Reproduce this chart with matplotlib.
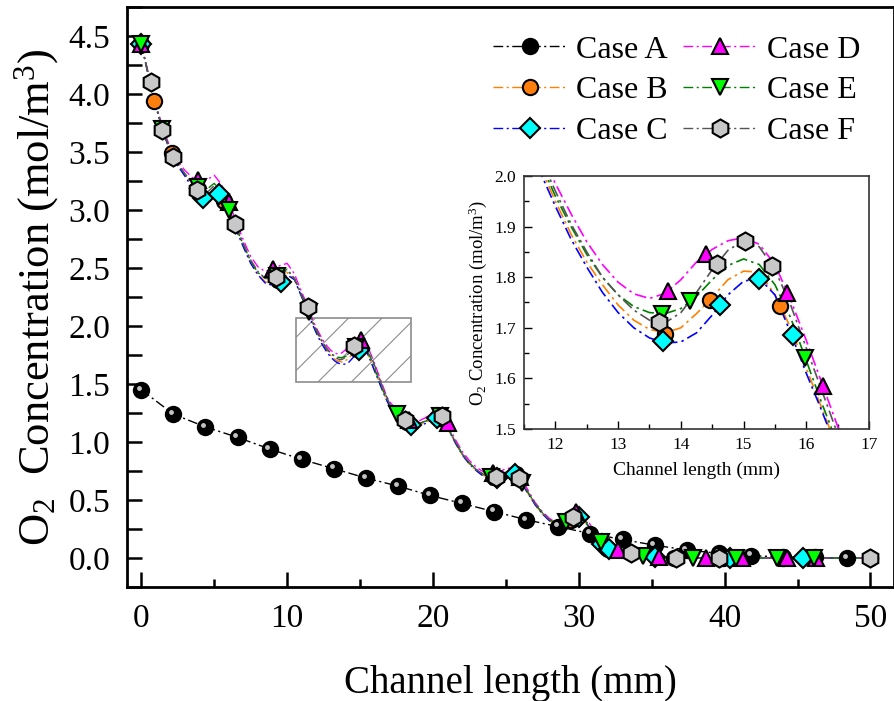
import matplotlib
matplotlib.use("Agg")
import matplotlib.pyplot as plt
from matplotlib.lines import Line2D
from matplotlib.patches import Rectangle
from matplotlib.ticker import MultipleLocator, FormatStrFormatter
from matplotlib.transforms import offset_copy

plt.rcParams['font.family'] = 'Liberation Serif'
plt.rcParams['mathtext.fontset'] = 'custom'
plt.rcParams['mathtext.rm'] = 'Liberation Serif'
plt.rcParams['mathtext.it'] = 'Liberation Serif:italic'
plt.rcParams['hatch.linewidth'] = 0.8

# ---- data ----
# Case A (straight channel)
case_a_x = [0, 2.2, 4.4, 6.6, 8.8, 11.0, 13.2, 15.4, 17.6, 19.8, 22.0, 24.2,
            26.4, 28.6, 30.8, 33.0, 35.2, 37.4, 39.6, 41.8, 44.0, 46.2, 48.4, 50.0]
case_a_y = [1.45, 1.24, 1.13, 1.04, 0.94, 0.85, 0.77, 0.69, 0.62, 0.54, 0.47, 0.40,
            0.33, 0.27, 0.21, 0.16, 0.11, 0.07, 0.04, 0.02, 0.01, 0.005, 0.0, 0.0]

# shared channel positions for the wavy curves B-F
line_x = [0, 0.5, 1, 1.5, 2, 2.5, 3, 3.5, 4, 4.5, 5, 5.5, 6, 6.5, 7, 7.5, 8, 8.5, 9, 9.5, 10, 10.5, 11,
          11.5, 11.75, 12, 12.25, 12.5, 12.75, 13, 13.25, 13.5, 13.75, 14, 14.25, 14.5, 14.75,
          15, 15.25, 15.5, 15.75, 16, 16.25, 16.5, 16.75, 17,
          17.5, 18, 18.5, 19, 19.5, 20, 20.5, 21, 21.5, 22, 22.5, 23, 23.5, 24, 24.5, 25, 25.5,
          26, 26.5, 27, 27.5, 28, 28.5, 29, 29.5, 30, 30.5, 31, 31.5, 32, 32.5, 33,
          34, 35, 36, 38, 40, 42, 44, 46, 48, 50]

line_b = [4.43, 4.15, 3.89, 3.67, 3.50, 3.39, 3.30, 3.21, 3.13, 3.12, 3.18, 3.13, 2.99, 2.84, 2.69, 2.55,
          2.45, 2.38, 2.37, 2.41, 2.46, 2.40, 2.25,
          2.11, 2.02, 1.95, 1.885, 1.83, 1.785, 1.745, 1.715, 1.697, 1.69, 1.70, 1.728, 1.76, 1.795,
          1.812, 1.81, 1.765, 1.70, 1.62, 1.54, 1.46, 1.385, 1.32,
          1.24, 1.18, 1.15, 1.15, 1.17, 1.21, 1.21, 1.12, 1.00, 0.89, 0.81, 0.75, 0.71, 0.69, 0.70,
          0.73, 0.73, 0.66, 0.56, 0.46, 0.38, 0.32, 0.29, 0.30, 0.33, 0.35, 0.30, 0.21, 0.13, 0.08,
          0.05, 0.04,
          0.02, 0.01, 0, 0, 0, 0, 0, 0, 0, 0]
line_c = [4.43, 4.15, 3.89, 3.67, 3.50, 3.38, 3.29, 3.19, 3.11, 3.10, 3.16, 3.13, 2.99, 2.83, 2.68, 2.54,
          2.44, 2.37, 2.35, 2.38, 2.44, 2.40, 2.25,
          2.10, 2.01, 1.94, 1.875, 1.82, 1.77, 1.73, 1.70, 1.68, 1.67, 1.672, 1.69, 1.725, 1.765,
          1.792, 1.798, 1.765, 1.69, 1.61, 1.535, 1.455, 1.38, 1.315,
          1.24, 1.18, 1.14, 1.14, 1.16, 1.20, 1.21, 1.12, 1.00, 0.89, 0.81, 0.75, 0.70, 0.68, 0.69,
          0.72, 0.73, 0.66, 0.56, 0.46, 0.38, 0.32, 0.29, 0.29, 0.32, 0.35, 0.30, 0.21, 0.13, 0.08,
          0.05, 0.04,
          0.02, 0.01, 0, 0, 0, 0, 0, 0, 0, 0]
line_d = [4.43, 4.17, 3.91, 3.70, 3.53, 3.42, 3.34, 3.28, 3.25, 3.26, 3.30, 3.22, 3.07, 2.90, 2.74, 2.60,
          2.51, 2.47, 2.49, 2.52, 2.54, 2.45, 2.29,
          2.15, 2.05, 1.985, 1.925, 1.87, 1.825, 1.79, 1.767, 1.758, 1.768, 1.795, 1.83, 1.855, 1.872,
          1.878, 1.865, 1.825, 1.755, 1.675, 1.59, 1.505, 1.42, 1.35,
          1.28, 1.21, 1.18, 1.18, 1.21, 1.26, 1.27, 1.16, 1.03, 0.92, 0.84, 0.78, 0.74, 0.72, 0.74,
          0.77, 0.78, 0.70, 0.59, 0.48, 0.40, 0.34, 0.31, 0.33, 0.38, 0.41, 0.35, 0.24, 0.15, 0.10,
          0.07, 0.05,
          0.03, 0.01, 0, 0, 0, 0, 0, 0, 0, 0]
line_e = [4.43, 4.16, 3.90, 3.68, 3.51, 3.40, 3.31, 3.24, 3.18, 3.18, 3.23, 3.15, 3.00, 2.85, 2.70, 2.56,
          2.46, 2.41, 2.41, 2.45, 2.49, 2.41, 2.26,
          2.12, 2.03, 1.96, 1.90, 1.845, 1.80, 1.765, 1.742, 1.73, 1.728, 1.738, 1.762, 1.795, 1.823,
          1.836, 1.825, 1.785, 1.72, 1.635, 1.55, 1.47, 1.395, 1.33,
          1.25, 1.19, 1.16, 1.16, 1.18, 1.22, 1.22, 1.13, 1.01, 0.90, 0.82, 0.76, 0.72, 0.70, 0.71,
          0.74, 0.74, 0.67, 0.57, 0.47, 0.39, 0.33, 0.30, 0.31, 0.34, 0.36, 0.31, 0.21, 0.13, 0.08,
          0.06, 0.04,
          0.02, 0.01, 0, 0, 0, 0, 0, 0, 0, 0]
line_f = [4.43, 4.16, 3.90, 3.68, 3.51, 3.40, 3.31, 3.22, 3.15, 3.15, 3.21, 3.16, 3.02, 2.86, 2.71, 2.57,
          2.47, 2.41, 2.41, 2.44, 2.48, 2.41, 2.27,
          2.13, 2.04, 1.97, 1.905, 1.85, 1.80, 1.765, 1.735, 1.715, 1.71, 1.73, 1.77, 1.815, 1.853,
          1.872, 1.86, 1.815, 1.745, 1.66, 1.575, 1.49, 1.41, 1.34,
          1.26, 1.19, 1.16, 1.16, 1.18, 1.22, 1.22, 1.13, 1.01, 0.90, 0.82, 0.76, 0.72, 0.70, 0.71,
          0.74, 0.74, 0.67, 0.57, 0.47, 0.39, 0.33, 0.30, 0.31, 0.35, 0.37, 0.32, 0.22, 0.14, 0.08,
          0.05, 0.04,
          0.02, 0.01, 0, 0, 0, 0, 0, 0, 0, 0]

# symbols shown on the main plot
mk_b_x = [0, 0.9, 2.1, 5.7, 9.4, 14.8, 18.2, 20.4, 24.2, 25.7, 29.5, 32.0, 36.5, 39.9, 44.0]
mk_b_y = [4.43, 3.94, 3.49, 3.08, 2.40, 1.80, 1.17, 1.21, 0.70, 0.72, 0.33, 0.08, 0, 0, 0]
mk_c_x = [0, 4.2, 5.36, 9.6, 14.95, 18.5, 20.3, 24.4, 25.6, 30.0, 31.6, 32.1, 35.2, 40.4, 45.4]
mk_c_y = [4.43, 3.10, 3.14, 2.38, 1.79, 1.15, 1.21, 0.69, 0.72, 0.35, 0.12, 0.08, 0.01, 0, 0]
mk_d_x = [0, 3.87, 6.04, 9.05, 15.05, 18.35, 21.0, 24.1, 26.0, 29.8, 32.7, 35.5, 38.7, 41.2, 44.3, 46.3]
mk_d_y = [4.43, 3.26, 3.07, 2.49, 1.878, 1.19, 1.16, 0.73, 0.70, 0.40, 0.07, 0.01, 0, 0, 0, 0]
mk_e_x = [0, 1.45, 3.88, 6.04, 9.3, 11.5, 14.7, 17.55, 20.5, 24.0, 26.1, 29.1, 31.5, 34.4, 37.8, 40.75, 43.6, 46.1]
mk_e_y = [4.43, 3.70, 3.20, 3.00, 2.43, 2.12, 1.82, 1.24, 1.22, 0.70, 0.65, 0.31, 0.14, 0.02, 0, 0, 0, 0]
mk_f_x = [0.65, 1.45, 2.16, 3.8, 6.43, 9.23, 11.4, 14.58, 18.1, 20.6, 24.3, 25.9, 29.6, 33.6, 36.7, 39.6, 50.0]
mk_f_y = [4.10, 3.69, 3.46, 3.17, 2.88, 2.42, 2.16, 1.827, 1.19, 1.22, 0.70, 0.69, 0.35, 0.04, 0, 0, 0]

# symbols shown in the inset (12-17 mm)
in_b_x = [13.75, 14.46, 15.58]
in_b_y = [1.688, 1.754, 1.744]
in_c_x = [13.72, 14.63, 15.25, 15.78]
in_c_y = [1.673, 1.746, 1.796, 1.686]
in_d_x = [13.8, 14.4, 15.7, 16.27]
in_d_y = [1.772, 1.845, 1.769, 1.585]
in_e_x = [13.7, 14.15, 15.98]
in_e_y = [1.728, 1.752, 1.64]
in_f_x = [13.65, 14.58, 15.03, 15.45]
in_f_y = [1.712, 1.827, 1.872, 1.823]

labels = ['Case A', 'Case B', 'Case C', 'Case D', 'Case E', 'Case F']

# ---- styling ----
dashdot = (0, (7, 2.5, 1.5, 2.5))
series = [
    # line y, main symbols, inset symbols, line colour, face colour, marker, size
    (line_b, mk_b_x, mk_b_y, in_b_x, in_b_y, '#FF8000', '#FF7F0E', 'o', 11),
    (line_c, mk_c_x, mk_c_y, in_c_x, in_c_y, '#0000FF', '#00FFFF', 'D', 10),
    (line_d, mk_d_x, mk_d_y, in_d_x, in_d_y, '#FF00FF', '#FF00FF', '^', 12),
    (line_e, mk_e_x, mk_e_y, in_e_x, in_e_y, '#008000', '#00FF00', 'v', 12),
    (line_f, mk_f_x, mk_f_y, in_f_x, in_f_y, '#555555', '#C8C8C8', 'h', 13),
]

fig = plt.figure(figsize=(8.95, 7.01), dpi=100)
ax = fig.add_axes([0.1416, 0.1626, 0.857, 0.8274])
axin = fig.add_axes([0.5855, 0.388, 0.3855, 0.361])


def draw(a, inset, lw):
    a.plot(case_a_x, case_a_y, color='black', lw=lw, ls=dashdot, zorder=2)
    a.plot(case_a_x, case_a_y, ls='none', marker='o', ms=11, mfc='black',
           mec='black', mew=1.5, zorder=3)
    hl = offset_copy(a.transData, fig=fig, x=-1.6, y=1.6, units='points')
    a.plot(case_a_x, case_a_y, ls='none', marker='o', ms=3.5, mfc='#d8d8d8',
           mec='none', alpha=0.9, transform=hl, zorder=3)
    for ly, mx, my, ix, iy, lc, fc, m, ms in series:
        a.plot(line_x, ly, color=lc, lw=lw, ls=dashdot, zorder=2)
        px, py = (ix, iy) if inset else (mx, my)
        a.plot(px, py, ls='none', marker=m, ms=ms, mfc=fc, mec='black',
               mew=1.5, zorder=3)


draw(ax, False, 1.0)
draw(axin, True, 1.2)

# hatched zoom box
ax.add_patch(Rectangle((10.6, 1.52), 7.9, 0.55, facecolor='none', edgecolor='#8c8c8c',
                       hatch='/', lw=1.2, zorder=1))

ax.set_xlim(-1.0, 51.6)
ax.set_ylim(-0.25, 4.75)
ax.xaxis.set_major_locator(MultipleLocator(10))
ax.xaxis.set_minor_locator(MultipleLocator(5))
ax.yaxis.set_major_locator(MultipleLocator(0.5))
ax.yaxis.set_minor_locator(MultipleLocator(0.25))
ax.tick_params(which='both', direction='in', width=1.8, labelsize=24, top=False, right=False)
ax.tick_params(axis='x', which='major', length=11, pad=12)
ax.tick_params(axis='x', which='minor', length=5.5)
ax.tick_params(axis='y', which='both', length=11, pad=12)
ax.yaxis.set_major_formatter(FormatStrFormatter('%.1f'))
for s in ax.spines.values():
    s.set_linewidth(2)
ax.set_xlabel('Channel length (mm)', fontsize=28, labelpad=22)
ax.set_ylabel(r'O$_2$  Concentration (mol/m$^3$)', fontsize=32, labelpad=5)

axin.set_xlim(11.5, 17)
axin.set_ylim(1.5, 2.0)
axin.xaxis.set_major_locator(MultipleLocator(1))
axin.xaxis.set_minor_locator(MultipleLocator(0.5))
axin.yaxis.set_major_locator(MultipleLocator(0.1))
axin.yaxis.set_minor_locator(MultipleLocator(0.05))
axin.tick_params(which='both', direction='in', width=1, labelsize=12.5, top=False, right=False)
axin.tick_params(which='major', length=6, pad=6)
axin.tick_params(which='minor', length=3.5)
for s in axin.spines.values():
    s.set_linewidth(1.2)
    s.set_color('#333333')
axin.set_xlabel('Channel length (mm)', fontsize=14, labelpad=6)
axin.set_ylabel(r'O$_2$ Concentration (mol/m$^3$)', fontsize=13.5, labelpad=4)

# legend proxies
handles = [Line2D([], [], color='black', lw=1.0, ls=dashdot, marker='o', ms=11,
                  mfc='black', mec='black', mew=1.5)]
for ly, mx, my, ix, iy, lc, fc, m, ms in series:
    handles.append(Line2D([], [], color=lc, lw=1.0, ls=dashdot, marker=m, ms=ms, mfc=fc,
                          mec='black', mew=1.5))
ax.legend(handles, labels, loc='upper right', bbox_to_anchor=(0.985, 0.99), ncol=2,
          frameon=False, fontsize=23, handlelength=2.3, handletextpad=0.3,
          columnspacing=0.5, labelspacing=0.36, borderaxespad=0.3)

fig.savefig('out.png', dpi=100)
